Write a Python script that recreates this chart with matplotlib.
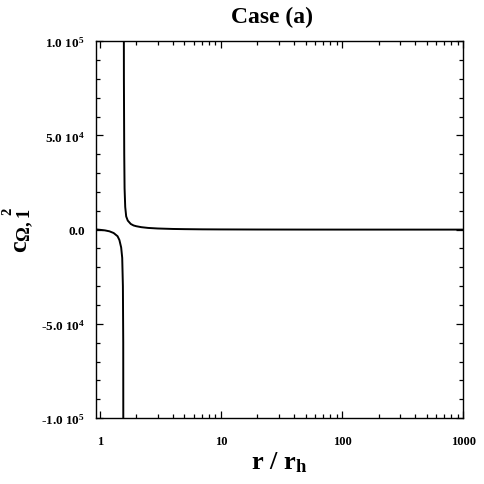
import numpy as np
import matplotlib
matplotlib.use("Agg")
import matplotlib.pyplot as plt
from matplotlib.ticker import FixedLocator, LogLocator, NullFormatter

plt.rcParams['font.family'] = ['Liberation Serif', 'DejaVu Serif']
plt.rcParams['font.weight'] = 'bold'
plt.rcParams['mathtext.fontset'] = 'custom'
plt.rcParams['mathtext.rm'] = 'Liberation Serif:bold'
plt.rcParams['mathtext.it'] = 'Liberation Serif:bold'
plt.rcParams['mathtext.bf'] = 'Liberation Serif:bold'
plt.rcParams['mathtext.default'] = 'rm'

# branch left of the pole (r / r_h, c^2)
r_left = [0.93, 1.0, 1.1, 1.2, 1.3, 1.4, 1.45, 1.5, 1.53, 1.55, 1.56, 1.566]
c_left = [100, -100, -400, -900, -1800, -3500, -5500, -9500, -15000, -30000, -60000, -200000]

# branch right of the pole
r_right = [1.572, 1.58, 1.59, 1.6, 1.62, 1.65, 1.7, 1.8, 1.9, 2.0, 2.2, 2.5,
           3.0, 4.0, 5.0, 7.0, 10.0, 20.0, 50.0, 100.0, 1000.0]
c_right = [200000, 80000, 40000, 22000, 12000, 7000, 4800, 3000, 2200, 1800, 1300, 900,
           600, 350, 250, 150, 100, 50, 20, 10, 0]

yticks = [-1e5, -5e4, 0, 5e4, 1e5]
ytick_labels = [r'-1.0 10$^{5}$', r'-5.0 10$^{4}$', '0.0', r'5.0 10$^{4}$', r'1.0 10$^{5}$']
xticks = [1, 10, 100, 1000]
xtick_labels = ['1', '10', '100', '1000']

fig = plt.figure(figsize=(4.85, 4.85), dpi=100)
ax = fig.add_axes([0.198, 0.136, 0.757, 0.777])

r = r_left + [np.nan] + r_right
c = c_left + [np.nan] + c_right
ax.plot(r, c, color='black', lw=1.4)

ax.set_xscale('log')
ax.set_xlim(0.93, 1000)
ax.set_ylim(-1e5, 1e5)

ax.set_xticks(xticks)
ax.set_xticklabels(xtick_labels, fontsize=9, fontweight='bold')
ax.xaxis.set_minor_locator(LogLocator(base=10, subs=np.arange(2, 10), numticks=20))
ax.xaxis.set_minor_formatter(NullFormatter())
ax.set_yticks(yticks)
ax.set_yticklabels(ytick_labels, fontsize=9.5, fontweight='bold')
ax.yaxis.set_minor_locator(FixedLocator(np.arange(-1e5, 1.0001e5, 1e4)))

ax.tick_params(which='both', direction='in', top=True, right=True, width=0.9)
ax.tick_params(which='major', length=5)
ax.tick_params(axis='y', which='major', pad=8)
ax.tick_params(axis='x', which='major', pad=12)
ax.tick_params(which='minor', length=3)
for s in ax.spines.values():
    s.set_linewidth(1.0)

ax.set_title('Case (a)', fontsize=17, fontweight='bold', pad=14, x=0.48)
ax.set_xlabel(r'r / r$_{\mathrm{h}}$', fontsize=19, fontweight='bold', labelpad=2)
ax.set_ylabel(r'c$_{\Omega,1}$', fontsize=19, fontweight='bold')
ax.yaxis.set_label_coords(-0.163, 0.5)
# the squared sign sits high above the subscript in the original
fig.text(0.017, 0.565, '2', rotation=90, fontsize=10.5, fontweight='bold',
         ha='center', va='center')

fig.savefig('out.png', dpi=100)
